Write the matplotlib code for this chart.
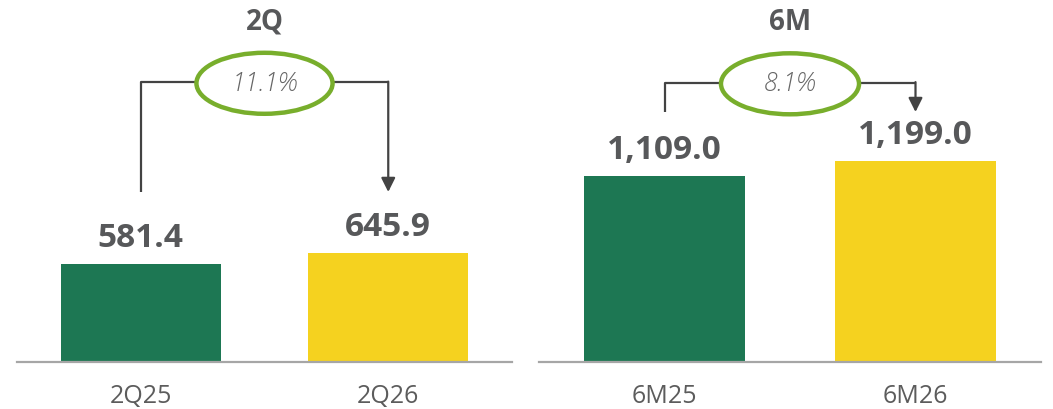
import matplotlib
matplotlib.use("Agg")
import matplotlib.pyplot as plt
from matplotlib.patches import Ellipse

# Net revenue, quarter and half year
panel_titles = ["2Q", "6M"]
categories = [["2Q25", "2Q26"], ["6M25", "6M26"]]
values = [[581.4, 645.9], [1109.0, 1199.0]]
value_labels = [["581.4", "645.9"], ["1,109.0", "1,199.0"]]
growth_labels = ["11.1%", "8.1%"]

green = "#1D7753"
yellow = "#F5D21F"
ring = "#78AE2C"
dark = "#57585A"
line_col = "#434343"

plt.rcParams["font.family"] = ["Open Sans", "DejaVu Sans"]

fig = plt.figure(figsize=(10.53, 4.10), dpi=100)
W, H = 1053, 410
px_per_unit = 0.168          # vertical pixels per value unit
ymax = 363 / px_per_unit

# axes boxes in pixels: left, width
boxes = [(17, 495), (539, 502)]
# bracket geometry in value units: start of left leg, arrow tip
bracket_y = [1665, 1662]
leg_start = [1012, 1488]
arrow_tip = [1012, 1488]

for i, (left, width) in enumerate(boxes):
    ax = fig.add_axes([left / W, 47 / H, width / W, 363 / H])
    x = [0, 1]
    ax.bar(x, values[i], width=0.645, color=[green, yellow], zorder=2)
    ax.set_xlim(-0.5, 1.5)
    ax.set_ylim(0, ymax)

    for s in ["top", "left", "right"]:
        ax.spines[s].set_visible(False)
    ax.spines["bottom"].set_color("#A6A6A6")
    ax.spines["bottom"].set_linewidth(1.6)
    ax.set_yticks([])
    ax.set_xticks(x)
    ax.set_xticklabels(categories[i], fontsize=18, color="#5C5C5C")
    ax.tick_params(axis="x", length=0, pad=15)

    for xi, v, lab in zip(x, values[i], value_labels[i]):
        ax.annotate(lab, (xi, v), xytext=(0, 13), textcoords="offset points",
                    ha="center", va="baseline", fontsize=24,
                    fontweight="bold", color=dark)

    ax.text(0.5, ymax - 30 / px_per_unit, panel_titles[i], ha="center",
            va="baseline", fontsize=20, fontweight="bold", color=dark,
            clip_on=False)

    # growth bracket from first bar to second bar
    by = bracket_y[i]
    ax.plot([0, 0, 1], [leg_start[i], by, by], color=line_col, lw=1.6,
            solid_capstyle="butt", zorder=3)
    ax.annotate("", xy=(1, arrow_tip[i]), xytext=(1, by + 4),
                arrowprops=dict(arrowstyle="-|>", color=line_col, lw=1.6,
                                mutation_scale=21, shrinkA=0, shrinkB=0),
                zorder=3)
    ax.add_patch(Ellipse((0.5, by - 6), 0.55, 61 / px_per_unit,
                         facecolor="white", edgecolor=ring, lw=3.2,
                         zorder=4))
    ax.text(0.5, by - 6, growth_labels[i], ha="center", va="center",
            fontsize=18, style="italic", fontweight="light",
            color="#666666", zorder=5)

fig.savefig("out.png", dpi=100)
